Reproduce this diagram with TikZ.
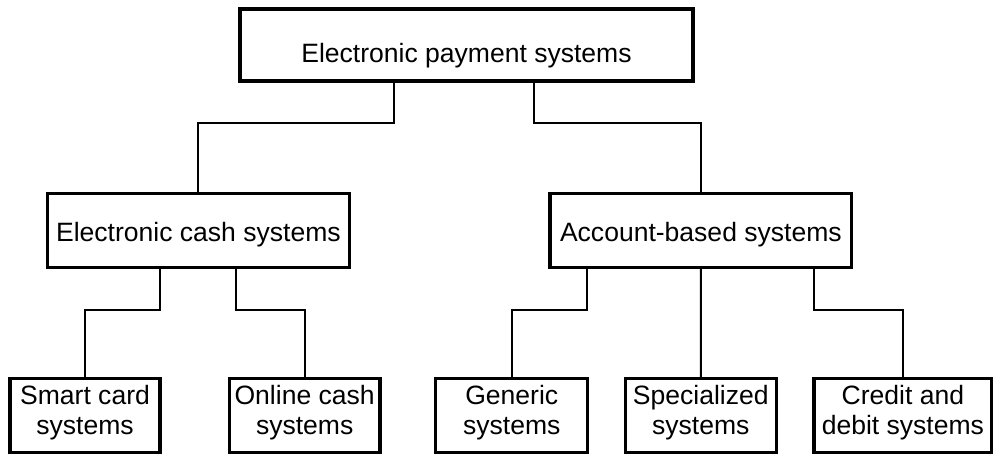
\documentclass[tikz,border=0pt]{standalone}
\usepackage{fontspec}
\setmainfont{Liberation Sans}
\usetikzlibrary{fit}
% two centred lines whose node baseline is the first line
\newcommand{\stackpair}[2]{\begin{tabular}[t]{@{}c@{}}#1\\#2\end{tabular}}
\begin{document}
\begin{tikzpicture}[x=0.75pt,y=-0.75pt,
  box/.style={draw, rectangle, line width=2.5pt, inner sep=0pt, outer sep=0pt},
  link/.style={line width=1.5pt},
  lbl/.style={inner sep=0pt, outer sep=0pt, anchor=base,
              font=\fontsize{19.9}{22.5}\selectfont}]
\useasboundingbox (0,0) rectangle (994,455);

% levels of the horizontal connector runs
\coordinate (lvl1) at (0,123.3);
\coordinate (lvl2) at (0,310);

% boxes
\node[box, fit={(240,9)(693,81)}] (eps) {};
\node[box, fit={(47.5,193.3)(349.3,267.7)}] (ecs) {};
\node[box, fit={(550,193.3)(851.7,267.7)}] (abs) {};
\node[box, fit={(10,378.3)(160,452.3)}] (scs) {};
\node[box, fit={(229.3,378.3)(380,452.3)}] (ocs) {};
\node[box, fit={(435.8,378.3)(587.7,452.3)}] (gen) {};
\node[box, fit={(625.3,378.3)(776.3,452.3)}] (spe) {};
\node[box, fit={(814,378.3)(991.7,452.3)}] (cds) {};

% labels
\node[lbl] (eps-t) at (eps.center |- 0,62.7) {Electronic payment systems};
\node[lbl] (ecs-t) at (ecs.center |- 0,241) {Electronic cash systems};
\node[lbl] (abs-t) at (abs.center |- 0,241) {Account-based systems};
\node[lbl] (scs-t) at (scs.center |- 0,404) {\stackpair{Smart card}{systems}};
\node[lbl] (ocs-t) at (ocs.center |- 0,404) {\stackpair{Online cash}{systems}};
\node[lbl] (gen-t) at (gen.center |- 0,404) {\stackpair{Generic}{systems}};
\node[lbl] (spe-t) at (spe.center |- 0,404) {\stackpair{Specialized}{systems}};
\node[lbl] (cds-t) at (cds.center |- 0,404) {\stackpair{Credit and}{debit systems}};

% connectors
\draw[link] (eps.south -| 394,0) |- (lvl1 -| ecs.north) -- (ecs.north);
\draw[link] (eps.south -| 534,0) |- (lvl1 -| abs.north) -- (abs.north);
\draw[link] (ecs.south -| 160,0) |- (lvl2 -| scs.north) -- (scs.north);
\draw[link] (ecs.south -| 236,0) |- (lvl2 -| ocs.north) -- (ocs.north);
\draw[link] (abs.south -| 587,0) |- (lvl2 -| gen.north) -- (gen.north);
\draw[link] (abs.south) -- (spe.north);
\draw[link] (abs.south -| 813.7,0) |- (lvl2 -| cds.north) -- (cds.north);
\end{tikzpicture}
\end{document}
